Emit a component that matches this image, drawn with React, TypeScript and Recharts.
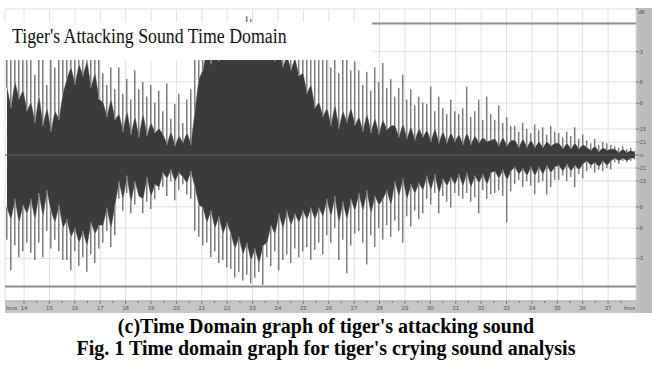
import React from 'react';
import { ComposedChart, Area, Bar, XAxis, YAxis, CartesianGrid, ReferenceLine } from 'recharts';

// time (s) of the first waveform column and spacing between columns
const timeStart = 13.33;
const timeStep = 0.1575;

// outer (light) peaks, percent of full scale
const peakTop = [
  72, 68, 75, 70, 78, 66,
  70, 55, 74, 66, 48, 72, 60, 76, 80,
  80, 85, 78, 82, 88, 76, 84, 72, 70,
  56, 48, 60, 45,
  60, 42, 52, 38, 58, 45, 50, 40, 48, 36, 44,
  30, 49, 25, 35, 42, 22, 38, 45,
  70, 78, 82, 85, 80, 88, 84, 86, 90,
  88, 86, 90, 87, 95, 93, 88, 86, 89,
  86, 84, 88, 82, 85, 80, 84, 78, 82, 80, 76, 82, 78, 75, 80,
  68, 60, 72, 56, 66, 70, 58, 64,
  58, 48, 57, 44, 60, 50, 63, 46, 52,
  40, 46, 55, 38, 45, 34, 40, 36,
  35, 47, 30, 40, 32, 28, 38, 30,
  28, 32, 47, 26, 30, 38, 24, 40, 28,
  24, 34, 22, 26, 20,
  20, 16, 22, 18, 15, 21, 17, 19, 14, 20, 16,
  15, 12, 16, 13, 19, 11, 14,
  10, 8, 11, 7, 9, 8, 7,
  6, 5, 6, 4, 5, 3,
];
const peakBottom = [
  -58, -79, -62, -70, -66, -60,
  -67, -72, -60, -70, -52, -64, -58, -66, -72,
  -72, -79, -66, -76, -70, -80, -68, -74, -64,
  -60, -52, -63, -55,
  -30, -38, -26, -40, -34, -28, -40, -32, -37, -30, -24,
  -22, -28, -18, -31, -24, -20, -27, -30,
  -52, -56, -62, -60, -70, -66, -74, -72, -77,
  -78, -84, -80, -86, -82, -88, -84, -80, -89,
  -70, -76, -66, -79, -72, -68, -74, -64, -70, -66, -63, -72, -65, -60, -68,
  -55, -60, -50, -72, -58, -81, -62, -54,
  -52, -60, -75, -55, -63, -50, -58, -48, -56,
  -45, -52, -60, -42, -49, -38, -44, -40,
  -30, -34, -26, -40, -28, -32, -36, -26,
  -28, -30, -26, -32, -29, -40, -24, -30, -27,
  -26, -24, -28, -46, -25,
  -20, -17, -22, -18, -21, -27, -19, -18, -27, -22, -17,
  -17, -14, -18, -15, -22, -13, -16,
  -11, -9, -12, -10, -11, -9, -10,
  -5, -6, -4, -5, -4, -3,
];
// dense (dark) body of the waveform
const bodyTop = [
  46, 32, 50, 38, 44, 30,
  36, 22, 40, 20, 32, 16, 30, 24, 42,
  52, 60, 48, 62, 54, 64, 46, 56, 38,
  36, 26, 38, 24,
  28, 16, 30, 14, 26, 12, 28, 13, 22, 15, 18,
  14, 7, 16, 6, 13, 8, 15, 7,
  30, 52, 58, 72, 62, 76, 64, 78, 68,
  76, 70, 74, 68, 80, 72, 76, 70, 74,
  66, 74, 64, 72, 60, 68, 58, 66, 54, 56, 42, 48, 32, 36, 26,
  32, 20, 34, 18, 30, 22, 32, 20,
  26, 16, 28, 15, 25, 14, 24, 17, 20,
  20, 12, 21, 11, 19, 10, 18, 12,
  17, 9, 18, 8, 16, 8, 15, 9,
  14, 7, 15, 7, 13, 8, 12, 9, 10,
  11, 6, 12, 6, 10,
  10, 5, 11, 5, 10, 5, 9, 5, 9, 6, 8,
  8, 4, 8, 4, 8, 4, 7,
  5, 3, 6, 2, 5, 3, 4,
  4, 1.5, 4, 1.5, 3, 1.5,
];
const bodyBottom = [
  -36, -44, -30, -46, -34, -40,
  -30, -44, -26, -42, -24, -38, -46, -34, -50,
  -44, -56, -50, -60, -52, -62, -46, -54, -48,
  -48, -36, -50, -34,
  -18, -30, -14, -32, -18, -28, -30, -15, -28, -20, -22,
  -12, -16, -10, -18, -12, -15, -19, -11,
  -22, -34, -36, -46, -38, -50, -42, -54, -46,
  -54, -64, -56, -68, -60, -72, -64, -74, -62,
  -60, -48, -54, -40, -50, -38, -48, -40, -46, -38, -44, -36, -44, -36, -42,
  -30, -42, -28, -46, -32, -44, -30, -38,
  -26, -38, -24, -40, -28, -34, -30, -24, -34,
  -18, -28, -16, -30, -20, -26, -19, -24,
  -14, -24, -13, -26, -16, -21, -15, -20,
  -13, -21, -12, -22, -14, -19, -13, -20, -12,
  -11, -16, -10, -17, -11,
  -8, -13, -9, -14, -8, -14, -8, -13, -7, -12, -8,
  -7, -11, -6, -11, -7, -10, -6,
  -4, -7, -5, -8, -4, -7, -4,
  -2, -4, -2, -4, -2, -2,
];

const timeTicks = [14, 15, 16, 17, 18, 19, 20, 21, 22, 23, 24, 25, 26, 27, 28, 29, 30, 31, 32, 33, 34, 35, 36, 37];
const levelTicks = [-70.8, -50.1, -35.5, -17.8, -8.9, 0, 8.9, 17.8, 35.5, 50.1, 70.8, 100];
const levelLabels = ['-3', '-6', '-9', '-15', '-21', '-\u221e', '-21', '-15', '-9', '-6', '-3', 'dB'];

const titleText = "Tiger's Attacking Sound Time Domain";
const caption1 = "(c)Time Domain graph of tiger's attacking sound";
const caption2 = "Fig. 1 Time domain graph for tiger's crying sound analysis";

const data = peakTop.map((p, i) => ({
  t: timeStart + i * timeStep,
  upSpike: [bodyTop[i], p],
  downSpike: [peakBottom[i], bodyBottom[i]],
  body: [bodyBottom[i], bodyTop[i]],
}));

const timeDomain: [number, number] = [13.25, 38.1];

const TimeTick = (props: any) => {
  const { x, y, payload } = props;
  return (
    <g>
      <line x1={x + 12.7} x2={x + 12.7} y1={y - 3} y2={y - 1} stroke="#777" strokeWidth={1} />
      <text x={x} y={y + 6} textAnchor="middle" fontSize={6} fill="#555" fontFamily="Liberation Sans">
        {payload.value}
      </text>
    </g>
  );
};

const LevelTick = (props: any) => {
  const { x, y, payload } = props;
  const idx = levelTicks.indexOf(payload.value);
  return (
    <text x={x} y={payload.value === 100 ? y + 5 : y + 2} textAnchor="start" fontSize={5.5} fill="#555" fontFamily="Liberation Sans">
      {levelLabels[idx]}
    </text>
  );
};

export default function App() {
  return (
    <div style={{ position: 'absolute', left: 0, top: 0, width: 652, height: 366, background: '#fff', overflow: 'hidden' }}>
      <div style={{ position: 'absolute', left: 636, top: 8, width: 16, height: 305, background: '#bdbdbd' }} />
      <div style={{ position: 'absolute', left: 5, top: 301, width: 631, height: 12, background: '#c6c6c6' }} />
      <div style={{ position: 'absolute', left: 0, top: 0 }}>
        <ComposedChart width={652} height={366} data={data} margin={{ top: 9, right: 0, bottom: 53, left: 5 }}>
          <CartesianGrid xAxisId="t" stroke="#e0e0e0" />
          <XAxis xAxisId="p" orientation="top" type="number" dataKey="t" domain={timeDomain} allowDataOverflow hide />
          <XAxis xAxisId="q" orientation="top" type="number" dataKey="t" domain={timeDomain} allowDataOverflow hide />
          <XAxis
            xAxisId="t"
            type="number"
            dataKey="t"
            domain={timeDomain}
            allowDataOverflow
            ticks={timeTicks}
            interval={0}
            height={12}
            tickSize={3}
            tickMargin={0}
            tickLine={{ stroke: '#777' }}
            axisLine={{ stroke: '#a0a0a0' }}
            tick={<TimeTick />}
          />
          <YAxis
            orientation="right"
            type="number"
            domain={[-100, 100]}
            allowDataOverflow
            ticks={levelTicks}
            interval={0}
            width={16}
            tickSize={2}
            tickMargin={0}
            tickLine={{ stroke: '#777' }}
            axisLine={false}
            tick={<LevelTick />}
          />
          <Area
            xAxisId="t"
            type="linear"
            dataKey="body"
            stroke="#3b3b3b"
            strokeWidth={0.5}
            fill="#3b3b3b"
            fillOpacity={1}
            dot={false}
            activeDot={false}
            isAnimationActive={false}
          />
          <Bar xAxisId="p" dataKey="upSpike" barSize={1.5} fill="#7c7c7c" isAnimationActive={false} />
          <Bar xAxisId="q" dataKey="downSpike" barSize={1.5} fill="#7c7c7c" isAnimationActive={false} />
          <ReferenceLine xAxisId="t" y={0} stroke="#5e5e5e" strokeWidth={1} />
          <ReferenceLine xAxisId="t" y={90} stroke="#8c8c8c" strokeWidth={2} />
          <ReferenceLine xAxisId="t" y={-90} stroke="#8c8c8c" strokeWidth={2} />
        </ComposedChart>
      </div>
      <div style={{ position: 'absolute', left: 0, top: 22, width: 372, height: 38, background: '#fff' }}>
        <div
          style={{
            position: 'absolute', left: 12, top: 3, whiteSpace: 'nowrap',
            fontFamily: '"Liberation Serif", "Times New Roman", serif', fontSize: 20, lineHeight: '22px',
            color: '#111', transform: 'scaleX(0.89)', transformOrigin: 'left top',
          }}
        >
          {titleText}
        </div>
      </div>
      <div style={{ position: 'absolute', left: 6, top: 305, fontSize: 6, fontFamily: '"Liberation Sans"', color: '#555' }}>hms</div>
      <div style={{ position: 'absolute', left: 624, top: 305, fontSize: 6, fontFamily: '"Liberation Sans"', color: '#555' }}>hms</div>
      <div
        style={{
          position: 'absolute', left: 0, top: 315, width: 652, textAlign: 'center',
          fontFamily: '"Liberation Serif", "Times New Roman", serif', fontWeight: 'bold', fontSize: 20, lineHeight: '22px', color: '#000',
        }}
      >
        <div>{caption1}</div>
        <div>{caption2}</div>
      </div>
    </div>
  );
}
